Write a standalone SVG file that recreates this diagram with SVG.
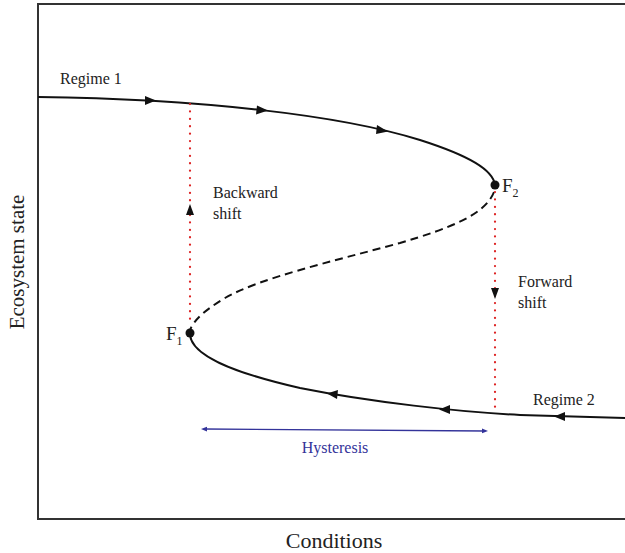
<svg xmlns="http://www.w3.org/2000/svg" width="625" height="553" viewBox="0 0 625 553">
<style>
text{font-family:"Liberation Serif","Times New Roman",serif;fill:#222}
.lbl{font-size:16px}
.fl{font-size:19px}
.sub{font-size:12px}
.ax{font-size:21px}
.curve{fill:none;stroke:#111;stroke-width:2}
.dash{fill:none;stroke:#111;stroke-width:2;stroke-dasharray:8 5}
.dot{fill:none;stroke:#d22;stroke-width:2.2;stroke-dasharray:0.1 7.3;stroke-linecap:round}
.ah{fill:#111}
</style>
<defs>
<marker id="bl" viewBox="0 0 10 10" refX="5" refY="5" markerWidth="6" markerHeight="6" orient="auto-start-reverse" markerUnits="userSpaceOnUse"><path d="M0,1 L10,5 L0,9 z" fill="#33339a"/></marker>
</defs>
<rect width="625" height="553" fill="#fff"/>
<g id="frame">
<path d="M625,4 L38,4 L38,519 L625,519" fill="none" stroke="#333" stroke-width="2"/>
</g>
<g id="connectors">
<path class="curve" d="M38,97 C200,99 340,115 420,140 C470,156 493,170 495,185"/>
<path class="dash" d="M494,192 C485,215 450,228 400,243 C330,262 260,278 225,298 C205,310 194,320 190,330"/>
<path class="curve" d="M190,335 C192,355 230,372 300,388 C370,402 460,412 520,415 L625,418"/>
<polygon class="ah" points="156,100.5 145,96 145,105"/>
<polygon class="ah" points="268,110.5 257,105.5 256,114.5"/>
<polygon class="ah" points="388,131.5 377,125 376,134"/>
<polygon class="ah" points="327,393.5 338,390 337,399"/>
<polygon class="ah" points="439,409.5 450,405 450,414"/>
<polygon class="ah" points="554,416.5 565,412 565,421"/>
<path class="dot" d="M190,104 L190,326"/>
<path class="dot" d="M495,192 L495,408"/>
<polygon class="ah" points="190,204 186,215 194,215"/>
<polygon class="ah" points="495,299 491,288 499,288"/>
<path d="M204,429 L485,431" stroke="#33339a" stroke-width="1.3" marker-start="url(#bl)" marker-end="url(#bl)"/>
</g>
<g id="F2">
<circle cx="495" cy="185" r="4.5" fill="#111"/>
<text class="fl" x="502" y="192">F<tspan class="sub" dy="5">2</tspan></text>
</g>
<g id="F1">
<circle cx="190" cy="333" r="4.5" fill="#111"/>
<text class="fl" x="166" y="340">F<tspan class="sub" dy="5">1</tspan></text>
</g>
<g id="regime1"><text class="lbl" x="60" y="84">Regime 1</text></g>
<g id="regime2"><text class="lbl" x="533" y="405">Regime 2</text></g>
<g id="backward"><text class="lbl" x="213" y="198">Backward</text><text class="lbl" x="213" y="219">shift</text></g>
<g id="forward"><text class="lbl" x="518" y="287">Forward</text><text class="lbl" x="518" y="308">shift</text></g>
<g id="hysteresis"><text x="335" y="453" text-anchor="middle" font-size="16" style="fill:#33339a">Hysteresis</text></g>
<g id="ylabel"><text class="ax" transform="translate(24,262) rotate(-90)" text-anchor="middle">Ecosystem state</text></g>
<g id="xlabel"><text x="334" y="548" text-anchor="middle" font-size="22">Conditions</text></g>
</svg>
